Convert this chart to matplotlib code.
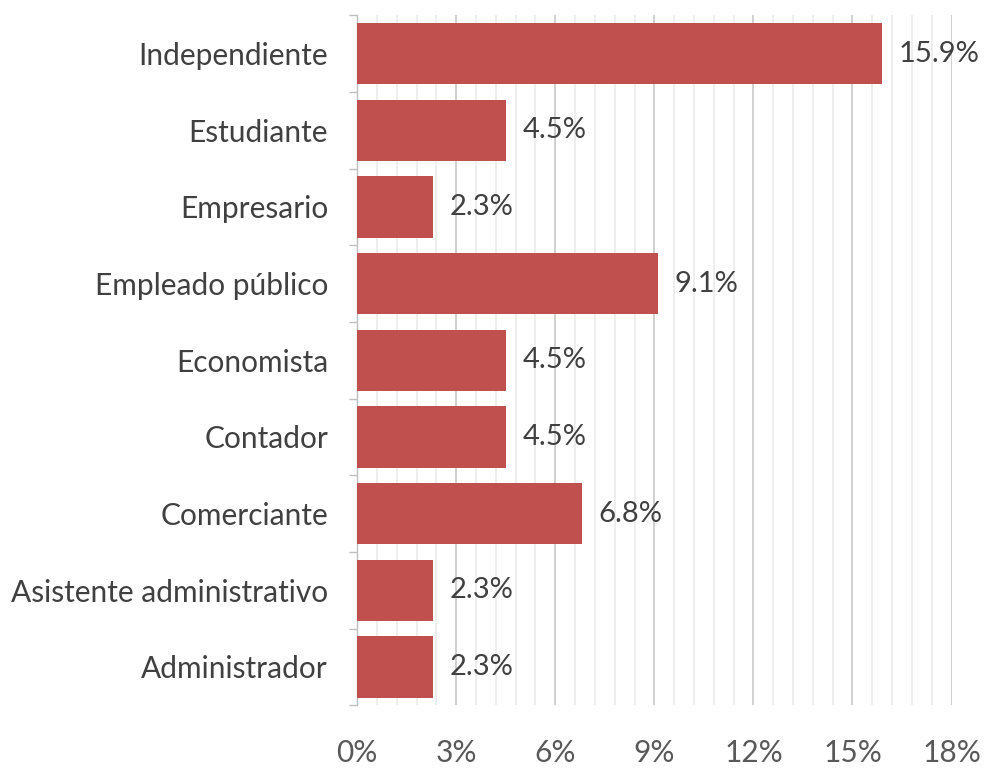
import numpy as np
import matplotlib.pyplot as plt
from matplotlib.ticker import MultipleLocator, FuncFormatter

# Ocupaciones (de abajo hacia arriba) y porcentaje
ocupaciones = ['Administrador', 'Asistente administrativo', 'Comerciante', 'Contador',
               'Economista', 'Empleado público', 'Empresario', 'Estudiante', 'Independiente']
porcentajes = [2.3, 2.3, 6.8, 4.5, 4.5, 9.1, 2.3, 4.5, 15.9]

plt.rcParams['font.family'] = ['Lato', 'DejaVu Sans']

fig = plt.figure(figsize=(9.84, 7.69), dpi=100)
ax = fig.add_axes([0.363, 0.083, 0.604, 0.897])

y = np.arange(len(ocupaciones))
ax.barh(y, porcentajes, height=0.8, color='#C0504D', zorder=3)

for yi, v in zip(y, porcentajes):
    ax.text(v + 0.5, yi, f'{v:.1f}%', va='center', ha='left',
            fontsize=21, color='#404040')

ax.set_xlim(0, 18)
ax.set_ylim(-0.5, len(ocupaciones) - 0.5)
ax.xaxis.set_major_locator(MultipleLocator(3))
ax.xaxis.set_minor_locator(MultipleLocator(0.6))
ax.xaxis.set_major_formatter(FuncFormatter(lambda x, _: f'{x:.0f}%'))
ax.grid(axis='x', which='major', color='#C8C8C8', linewidth=1.2, zorder=0)
ax.grid(axis='x', which='minor', color='#EBEBEB', linewidth=1.2, zorder=0)

ax.set_yticks(y)
ax.set_yticklabels(ocupaciones)
ax.set_yticks(np.arange(-0.5, len(ocupaciones)), minor=True)
ax.tick_params(axis='y', which='major', length=0, pad=21, labelsize=21.5, labelcolor='#404040')
ax.tick_params(axis='y', which='minor', length=6, color='#BFBFBF', width=1)
ax.tick_params(axis='x', which='both', length=0, pad=24, labelsize=21.5, labelcolor='#595959')

for s in ['top', 'right', 'bottom']:
    ax.spines[s].set_visible(False)
ax.spines['left'].set_color('#BFBFBF')
ax.spines['left'].set_linewidth(1)

fig.savefig('out.png', dpi=100)
